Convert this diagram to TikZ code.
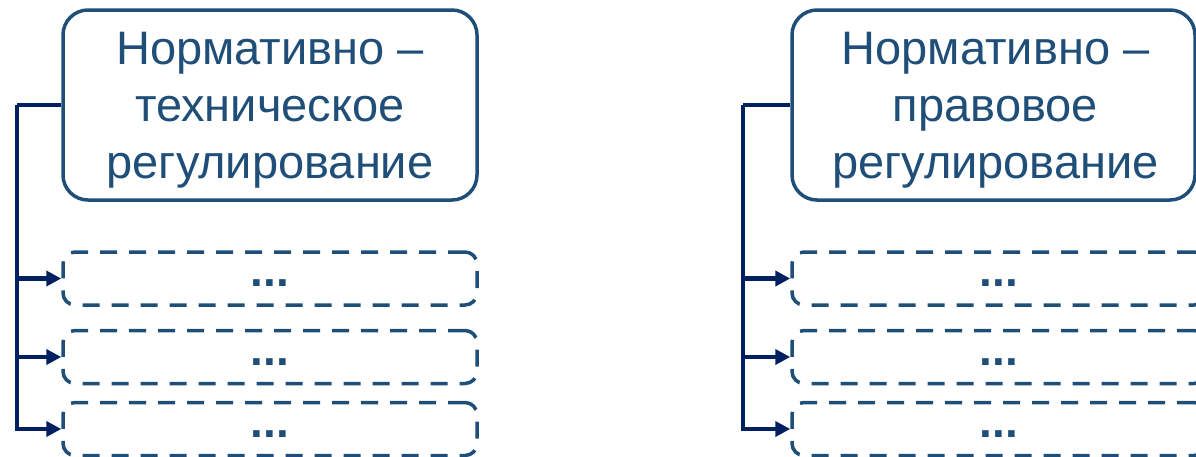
\documentclass[tikz,border=0pt]{standalone}
\usepackage{fontspec}
\setmainfont{Liberation Sans}
\usetikzlibrary{arrows.meta}
\definecolor{boxblue}{RGB}{31,78,121}
\definecolor{navy}{RGB}{0,32,96}
\newcommand{\moredots}{\raisebox{-5pt}{...}}
\tikzset{
  mainbox/.style={draw=boxblue, line width=3.5pt, rounded corners=25pt,
    minimum height=190pt, inner sep=0pt},
  title/.style={align=center, text=boxblue, inner sep=0pt,
    font=\fontsize{47}{57}\selectfont},
  subbox/.style={draw=boxblue, line width=3.5pt, rounded corners=12pt,
    dash pattern=on 17pt off 12pt, minimum width=414pt, minimum height=53pt,
    inner sep=0pt, text=boxblue, text height=6.5pt, text depth=0pt,
    font=\fontsize{46}{57}\selectfont\bfseries},
  conn/.style={draw=navy, line width=4.5pt},
  tip/.style={conn, -{Triangle[length=15pt,width=15pt]}}
}
\begin{document}
\begin{tikzpicture}[x=1pt,y=-1pt]
\useasboundingbox (0,0) rectangle (1196,456);
\clip (0,0) rectangle (1196,456);

% left column
\node[mainbox, minimum width=414pt] (lm) at (270,105) {};
\node[title] (lmt) at ([yshift=-5pt]lm.center)
  {Нормативно –\\техническое\\регулирование};
\node[subbox] (l1) at (270,278.5) {\moredots};
\node[subbox] (l2) at (270,357) {\moredots};
\node[subbox] (l3) at (270,429) {\moredots};
\coordinate (lt) at (17,105);
\draw[conn] (lm.west) -- (lt);
\draw[tip] (lt) |- (l1.west);
\draw[tip] (lt) |- (l2.west);
\draw[tip] (lt) |- (l3.west);

% right column
\node[mainbox, minimum width=403pt] (rm) at (993.5,105) {};
\node[title] (rmt) at ([xshift=2pt,yshift=-5pt]rm.center)
  {Нормативно –\\правовое\\регулирование};
\node[subbox] (r1) at (999,278.5) {\moredots};
\node[subbox] (r2) at (999,357) {\moredots};
\node[subbox] (r3) at (999,429) {\moredots};
\coordinate (rt) at (743,105);
\draw[conn] (rm.west) -- (rt);
\draw[tip] (rt) |- (r1.west);
\draw[tip] (rt) |- (r2.west);
\draw[tip] (rt) |- (r3.west);
\end{tikzpicture}
\end{document}
